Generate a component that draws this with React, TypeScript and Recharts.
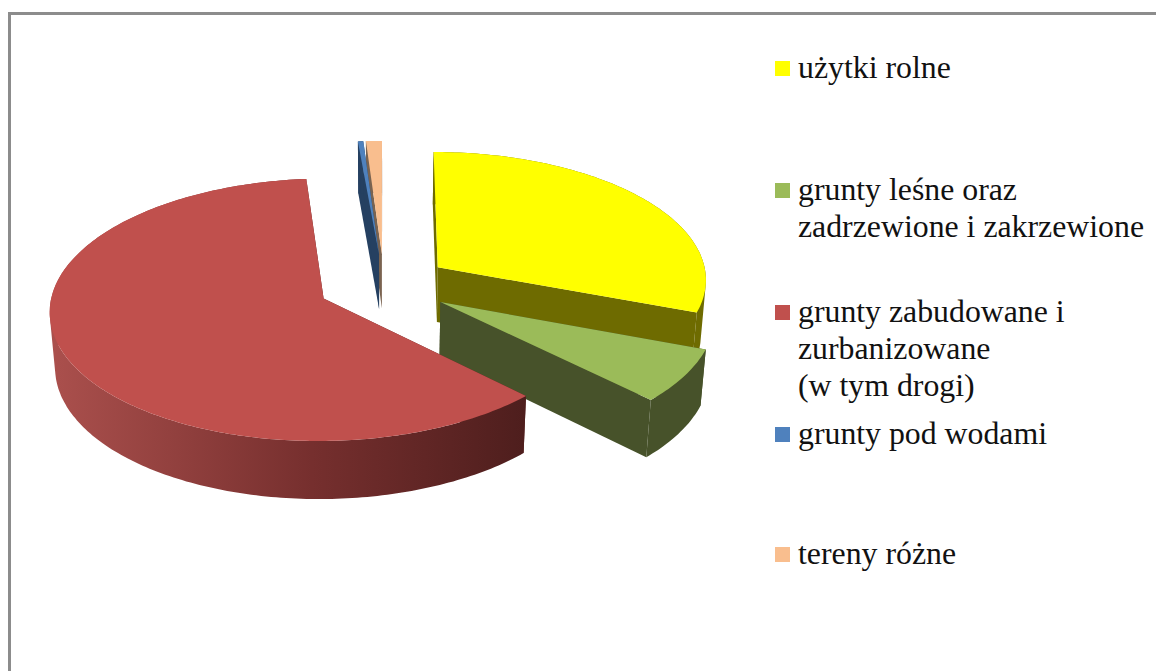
import { Cell, Legend, Pie, PieChart } from 'recharts';

const categories = [
  'użytki rolne',
  'grunty leśne oraz zadrzewione i zakrzewione',
  'grunty zabudowane i zurbanizowane (w tym drogi)',
  'grunty pod wodami',
  'tereny różne',
];
const shares = [30.7, 6.7, 61.2, 0.35, 1.05];

const topColors = ['#ffff00', '#9bbb59', '#c0504d', '#4f81bd', '#f9be8e'];
const sideColors = ['#6e6b00', '#47522a', '#5a2120', '#254061', '#7a6350'];

// wrapped legend text, one entry per category
const legendLines = [
  ['użytki rolne'],
  ['grunty leśne oraz', 'zadrzewione i zakrzewione'],
  ['grunty zabudowane i', 'zurbanizowane', '(w tym drogi)'],
  ['grunty pod wodami'],
  ['tereny różne'],
];
const legendTops = [49, 171, 293, 415, 535];

const data = categories.map((name, i) => ({ name, value: shares[i] }));

// fake 3D projection of the flat pie
const SQUASH = 128 / 270;
const PERSPECTIVE = 0.085;
const EXPLODE = 0.245;
const DEPTH = 56;
const SHRINK = 0.016;

// the water slice sits in front of its neighbour, so it gets its own later layer
const WATER = 3;

type Pt = [number, number];

function Slice3D(props: any) {
  const { cx, cy, outerRadius: r, startAngle, endAngle, midAngle, name, payload } = props;
  const idx = categories.indexOf(name ?? payload?.name);
  const rad = (d: number) => (d * Math.PI) / 180;
  // clockwise degrees from twelve o'clock
  const from = 90 - startAngle;
  const to = 90 - endAngle;
  const mid = midAngle !== undefined ? 90 - midAngle : (from + to) / 2;
  const ou = EXPLODE * Math.sin(rad(mid));
  const ov = -EXPLODE * Math.cos(rad(mid));

  const pt = (u: number, v: number, low: boolean): Pt => {
    const w = 1 - PERSPECTIVE * v + (low ? SHRINK : 0);
    return [cx + (r * u) / w, cy + (r * SQUASH * v) / w + (low ? DEPTH / w : 0)];
  };
  const rim = (low: boolean) => {
    const out: Pt[] = [];
    const n = Math.max(2, Math.ceil(to - from));
    for (let i = 0; i <= n; i++) {
      const t = rad(from + ((to - from) * i) / n);
      out.push(pt(ou + Math.sin(t), ov - Math.cos(t), low));
    }
    return out;
  };
  const poly = (pts: Pt[]) => `M${pts.map((p) => `${p[0].toFixed(1)} ${p[1].toFixed(1)}`).join(' L')} Z`;
  // same winding for every quad, so the wall fills as one shape with no seams
  const wound = (pts: Pt[]) => {
    let area = 0;
    pts.forEach((p, i) => {
      const q = pts[(i + 1) % pts.length];
      area += p[0] * q[1] - q[0] * p[1];
    });
    return area < 0 ? [...pts].reverse() : pts;
  };
  const hubTop = pt(ou, ov, false);
  const hubLow = pt(ou, ov, true);
  const topRim = rim(false);
  const lowRim = rim(true);
  const last = topRim.length - 1;
  const isRed = idx === 2;
  const gradId = `wall-${idx}`;
  const xs = topRim.map((p) => p[0]);
  const wallPath = topRim
    .slice(0, last)
    .map((p, i) => poly(wound([p, topRim[i + 1], lowRim[i + 1], lowRim[i]])))
    .join(' ');

  return (
    <g>
      {isRed && (
        <defs>
          <linearGradient id={gradId} gradientUnits="userSpaceOnUse" x1={Math.min(...xs)} x2={Math.max(...xs)} y1="0" y2="0">
            <stop offset="0" stopColor="#ab504d" />
            <stop offset="0.55" stopColor="#762f2e" />
            <stop offset="1" stopColor="#4e1e1d" />
          </linearGradient>
        </defs>
      )}
      <path d={poly([hubTop, hubLow, lowRim[0], topRim[0]])} fill={sideColors[idx]} />
      <path d={poly([hubTop, hubLow, lowRim[last], topRim[last]])} fill={sideColors[idx]} />
      <path d={wallPath} fill={isRed ? `url(#${gradId})` : sideColors[idx]} />
      <path d={poly([hubTop, ...topRim])} fill={topColors[idx]} />
    </g>
  );
}

function LegendBox() {
  return (
    <div style={{ position: 'relative', width: 1156, height: 671, fontFamily: '"Liberation Serif", serif', fontSize: 31.8, color: '#111' }}>
      {categories.map((name, i) => (
        <div key={name} style={{ position: 'absolute', left: 775, top: legendTops[i] }}>
          <div style={{ position: 'absolute', left: 0, top: 12, width: 15, height: 15, background: topColors[i] }} />
          <div style={{ position: 'absolute', left: 23, top: 0, lineHeight: '37px', whiteSpace: 'nowrap' }}>
            {legendLines[i].map((line) => (
              <div key={line}>{line}</div>
            ))}
          </div>
        </div>
      ))}
    </div>
  );
}

export default function App() {
  const pieProps = {
    data,
    dataKey: 'value',
    nameKey: 'name',
    cx: 384,
    cy: 285,
    outerRadius: 270,
    startAngle: 90,
    endAngle: -270,
    stroke: 'none',
    isAnimationActive: false,
  };
  const isWater = (p: any) => (p.name ?? p.payload?.name) === categories[WATER];
  return (
    <div style={{ position: 'absolute', left: 0, top: 0, width: 1156, height: 671, overflow: 'hidden', background: '#fff' }}>
      <div style={{ position: 'absolute', left: 8, top: 12, width: 1300, height: 800, border: '3px solid #8c8c8c' }} />
      <div style={{ position: 'absolute', left: 0, top: 0 }}>
        <PieChart width={1156} height={671} margin={{ top: 0, right: 0, bottom: 0, left: 0 }}>
          <Pie {...pieProps} shape={(p: any) => (isWater(p) ? <g /> : <Slice3D {...p} />)}>
            {data.map((d, i) => (
              <Cell key={d.name} fill={topColors[i]} />
            ))}
          </Pie>
          <Pie {...pieProps} legendType="none" shape={(p: any) => (isWater(p) ? <Slice3D {...p} /> : <g />)} />
          <Legend
            content={() => <LegendBox />}
            wrapperStyle={{ position: 'absolute', left: 0, top: 0, width: 1156, height: 671 }}
          />
        </PieChart>
      </div>
    </div>
  );
}
